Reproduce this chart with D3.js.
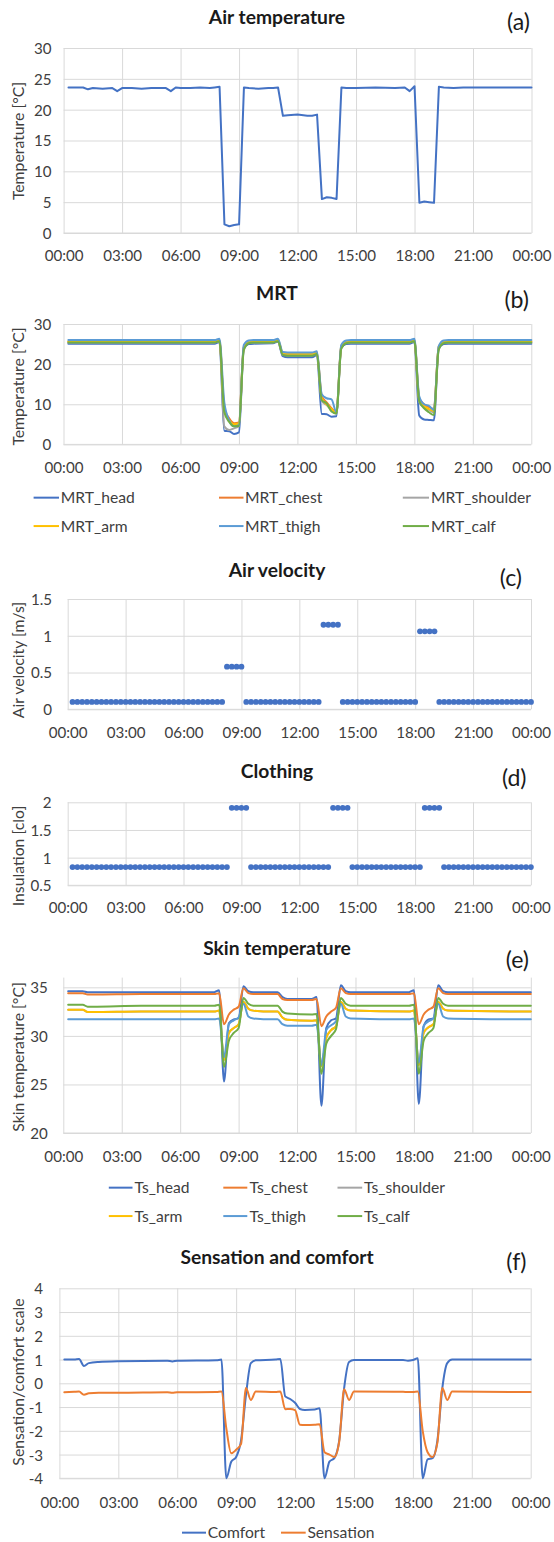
<!DOCTYPE html>
<html><head><meta charset="utf-8">
<script src="https://cdn.jsdelivr.net/npm/d3@7"></script>
<style>body{margin:0;background:#fff} svg{display:block;font-family:Lato, sans-serif}</style>
</head><body><svg id="c" width="554" height="1542"></svg>
<script>
// ---------- DATA ----------
const xTickHours = [0,3,6,9,12,15,18,21,24];
const xTickLabels = ["00:00","03:00","06:00","09:00","12:00","15:00","18:00","21:00","00:00"];

// (a) Air temperature
const airHours = [0.25,0.5,0.75,1.0,1.25,1.5,2.0,2.5,2.75,3.0,3.5,4.0,4.5,5.0,5.25,5.5,5.75,6.0,6.5,7.0,7.5,7.75,8.0,8.25,8.5,8.75,9.0,9.25,9.5,10.0,10.5,10.75,11.0,11.25,11.5,12.0,12.5,12.75,13.0,13.25,13.5,13.75,14.0,14.25,14.5,15.0,16.0,17.0,17.5,17.75,18.0,18.25,18.5,18.75,19.0,19.25,19.5,20.0,20.5,21.0,22.0,23.0,24.0];
const airTemp = [23.6,23.6,23.6,23.6,23.3,23.5,23.4,23.5,23.0,23.5,23.5,23.4,23.5,23.5,23.5,23.0,23.6,23.5,23.5,23.6,23.5,23.6,23.7,1.4,1.1,1.3,1.4,23.6,23.5,23.4,23.5,23.5,23.6,19.0,19.1,19.2,19.0,19.0,19.2,5.5,5.8,5.7,5.5,23.6,23.5,23.5,23.6,23.5,23.6,23.0,23.8,4.9,5.1,5.0,4.9,23.7,23.6,23.5,23.6,23.6,23.6,23.6,23.6];

// (b) MRT
const mrtNames = ["MRT_head","MRT_chest","MRT_shoulder","MRT_arm","MRT_thigh","MRT_calf"];
const mrtHours = [0.25,2,4,6,7.75,8.0,8.25,8.5,8.75,9.0,9.25,9.5,9.75,10.75,11.0,11.25,11.5,12.75,13.0,13.25,13.5,13.75,14.0,14.25,14.5,14.75,17.75,18.0,18.25,18.5,18.75,19.0,19.25,19.5,19.75,24];
const mrtHead     = [25.1,25.1,25.1,25.1,25.1,25.5,3.4,3.3,2.6,3.0,23.8,25.0,25.1,25.2,25.6,22.0,21.7,21.7,22.3,7.6,7.5,6.9,7.0,24.0,25.0,25.1,25.1,25.5,7.2,6.2,6.1,6.0,23.8,25.0,25.1,25.1];
const mrtChest    = [25.6,25.6,25.6,25.6,25.6,25.9,9.0,6.5,5.3,5.5,24.3,25.5,25.6,25.6,25.9,22.6,22.4,22.4,22.8,12.0,10.5,9.0,8.0,24.4,25.5,25.6,25.6,25.9,11.5,10.0,9.3,8.8,24.2,25.5,25.6,25.6];
const mrtShoulder = [25.4,25.4,25.4,25.4,25.4,25.7,4.5,3.6,4.0,4.5,24.0,25.3,25.4,25.4,25.7,22.3,22.2,22.2,22.6,10.8,9.8,8.6,7.6,24.2,25.3,25.4,25.4,25.7,10.5,9.2,8.6,8.0,24.0,25.3,25.4,25.4];
const mrtArm      = [25.7,25.7,25.7,25.7,25.7,26.0,8.5,6.0,5.0,5.2,24.3,25.6,25.7,25.7,26.0,22.8,22.6,22.6,23.0,11.5,10.0,8.8,8.0,24.5,25.6,25.7,25.7,26.0,11.2,9.5,8.8,8.3,24.4,25.6,25.7,25.7];
const mrtThigh    = [26.0,26.0,26.0,26.0,26.0,26.3,10.5,6.0,4.5,4.8,24.8,25.9,26.0,26.0,26.3,23.0,22.9,22.9,23.2,12.5,11.5,11.2,8.0,24.8,25.9,26.0,26.0,26.3,12.0,10.0,9.6,8.6,24.5,25.9,26.0,26.0];
const mrtCalf     = [25.4,25.4,25.4,25.4,25.4,25.7,8.0,5.6,4.5,4.6,23.5,25.2,25.4,25.4,25.7,22.3,22.1,22.1,22.5,11.0,10.2,8.2,7.7,23.8,25.2,25.4,25.4,25.7,10.8,9.0,8.0,7.3,23.6,25.2,25.4,25.4];

// (c) Air velocity and (d) clothing, 15-minute samples
const dotHours = [0.25,0.5,0.75,1,1.25,1.5,1.75,2,2.25,2.5,2.75,3,3.25,3.5,3.75,4,4.25,4.5,4.75,5,5.25,5.5,5.75,6,6.25,6.5,6.75,7,7.25,7.5,7.75,8,
 8.25,8.5,8.75,9,9.25,9.5,9.75,10,10.25,10.5,10.75,11,11.25,11.5,11.75,12,12.25,12.5,12.75,13,13.25,13.5,13.75,14,14.25,14.5,14.75,15,15.25,15.5,15.75,16,
 16.25,16.5,16.75,17,17.25,17.5,17.75,18,18.25,18.5,18.75,19,19.25,19.5,19.75,20,20.25,20.5,20.75,21,21.25,21.5,21.75,22,22.25,22.5,22.75,23,23.25,23.5,23.75,24];
const velocity = [0.1,0.1,0.1,0.1,0.1,0.1,0.1,0.1,0.1,0.1,0.1,0.1,0.1,0.1,0.1,0.1,0.1,0.1,0.1,0.1,0.1,0.1,0.1,0.1,0.1,0.1,0.1,0.1,0.1,0.1,0.1,0.1,
 0.58,0.58,0.58,0.58,0.1,0.1,0.1,0.1,0.1,0.1,0.1,0.1,0.1,0.1,0.1,0.1,0.1,0.1,0.1,0.1,1.15,1.15,1.15,1.15,0.1,0.1,0.1,0.1,0.1,0.1,0.1,0.1,
 0.1,0.1,0.1,0.1,0.1,0.1,0.1,0.1,1.06,1.06,1.06,1.06,0.1,0.1,0.1,0.1,0.1,0.1,0.1,0.1,0.1,0.1,0.1,0.1,0.1,0.1,0.1,0.1,0.1,0.1,0.1,0.1];
const clothing = [0.83,0.83,0.83,0.83,0.83,0.83,0.83,0.83,0.83,0.83,0.83,0.83,0.83,0.83,0.83,0.83,0.83,0.83,0.83,0.83,0.83,0.83,0.83,0.83,0.83,0.83,0.83,0.83,0.83,0.83,0.83,0.83,
 0.83,1.9,1.9,1.9,1.9,0.83,0.83,0.83,0.83,0.83,0.83,0.83,0.83,0.83,0.83,0.83,0.83,0.83,0.83,0.83,0.83,0.83,1.9,1.9,1.9,1.9,0.83,0.83,0.83,0.83,0.83,0.83,
 0.83,0.83,0.83,0.83,0.83,0.83,0.83,0.83,0.83,1.9,1.9,1.9,1.9,0.83,0.83,0.83,0.83,0.83,0.83,0.83,0.83,0.83,0.83,0.83,0.83,0.83,0.83,0.83,0.83,0.83,0.83,0.83];

// (e) Skin temperature
const skinNames = ["Ts_head","Ts_chest","Ts_shoulder","Ts_arm","Ts_thigh","Ts_calf"];
const skinHours = [0.25,0.75,1.0,1.25,1.5,4,7.75,8.0,8.25,8.5,8.75,9.0,9.25,9.5,9.75,10.75,11.0,11.25,11.5,12.75,13.0,13.25,13.5,13.75,14.0,14.25,14.5,14.75,17.75,18.0,18.25,18.5,18.75,19.0,19.25,19.5,19.75,24];
const tsHead     = [34.6,34.6,34.6,34.5,34.5,34.5,34.5,34.7,25.3,31.3,31.7,31.8,35.1,34.6,34.5,34.5,34.5,34.0,33.8,33.8,34.0,22.8,30.8,31.6,31.8,35.2,34.6,34.5,34.5,34.7,23.0,31.0,31.7,31.8,35.2,34.6,34.5,34.5];
const tsChest    = [34.4,34.4,34.4,34.25,34.25,34.3,34.3,34.4,31.2,32.2,32.7,33.0,34.9,34.4,34.3,34.3,34.3,33.8,33.7,33.7,33.8,31.0,32.0,32.5,32.9,34.9,34.4,34.3,34.3,34.4,31.2,32.2,32.7,33.0,34.9,34.4,34.3,34.3];
const tsShoulder = [32.7,32.7,32.7,32.45,32.45,32.5,32.5,32.6,27.5,30.3,30.8,31.2,33.5,32.8,32.6,32.5,32.5,31.9,31.65,31.55,31.6,26.9,29.8,30.6,31.0,33.5,32.8,32.6,32.5,32.6,27.0,30.3,30.9,31.2,33.5,32.8,32.6,32.5];
const tsArm      = [32.7,32.7,32.7,32.45,32.45,32.5,32.5,32.6,27.5,30.3,30.8,31.2,33.5,32.8,32.6,32.5,32.5,31.9,31.65,31.55,31.6,26.9,29.8,30.6,31.0,33.5,32.8,32.6,32.5,32.6,27.0,30.3,30.9,31.2,33.5,32.8,32.6,32.5];
const tsThigh    = [31.7,31.7,31.7,31.7,31.7,31.7,31.7,31.8,27.8,31.2,31.6,31.9,33.3,32.0,31.8,31.7,31.7,31.2,31.05,31.05,31.15,27.0,30.6,31.1,31.5,33.3,32.0,31.8,31.7,31.8,27.2,31.0,31.5,31.8,33.3,32.0,31.8,31.7];
const tsCalf     = [33.2,33.2,33.2,33.0,33.0,33.1,33.1,33.2,26.8,29.5,30.3,30.8,33.9,33.3,33.1,33.1,33.1,32.5,32.3,32.2,32.25,26.1,29.2,30.0,30.7,33.9,33.3,33.1,33.1,33.2,26.1,29.5,30.3,30.8,33.9,33.3,33.1,33.1];

// (f) Sensation and comfort
const scNames = ["Comfort","Sensation"];
const scHours = [0.25,0.75,1.0,1.25,1.5,2.0,3.0,5.5,5.75,6.0,8.0,8.25,8.5,8.75,9.0,9.25,9.5,9.75,10.0,11.0,11.25,11.5,11.75,12.0,12.25,12.5,13.0,13.25,13.5,13.75,14.0,14.25,14.5,14.75,15.0,17.5,17.75,18.0,18.25,18.5,18.75,19.0,19.25,19.5,19.75,20.0,24.0];
const comfort   = [1.0,1.0,1.02,0.73,0.85,0.9,0.93,0.95,0.92,0.95,0.97,1.0,-4.0,-3.3,-3.1,-2.4,-0.5,0.85,0.97,1.0,1.02,-0.55,-0.66,-0.82,-1.08,-1.12,-1.1,-1.05,-4.0,-3.3,-3.15,-2.4,-0.2,0.9,0.98,0.98,0.95,0.98,1.05,-4.0,-3.2,-3.15,-2.4,-0.2,0.85,1.0,1.0];
const sensation = [-0.38,-0.36,-0.35,-0.48,-0.42,-0.4,-0.4,-0.38,-0.4,-0.38,-0.37,-0.35,-1.9,-2.95,-2.8,-2.55,-0.2,-0.7,-0.35,-0.37,-0.35,-1.09,-1.08,-1.13,-1.75,-1.76,-1.75,-1.72,-2.9,-3.0,-3.1,-2.45,-0.25,-0.7,-0.35,-0.36,-0.37,-0.37,-0.35,-2.0,-2.9,-3.1,-2.5,-0.2,-0.7,-0.35,-0.37];

// ---------- STYLE ----------
const C = {blue:"#4472C4", orange:"#ED7D31", gray:"#A5A5A5", gold:"#FFC000", lblue:"#5B9BD5", green:"#70AD47"};
const seriesColors = [C.blue, C.orange, C.gray, C.gold, C.lblue, C.green];
const GRID = "#D9D9D9", TXT = "#404040", TITLE = "#1a1a1a";
const FONT = "Lato, sans-serif";

const svg = d3.select("#c");

function fit(str, weight, target){
  const t = svg.append("text").attr("font-family",FONT).attr("font-weight",weight).attr("font-size",100).text(str);
  const w = t.node().getComputedTextLength(); t.remove();
  return 100*target/w;
}
const tickFS = fit("00:00", 400, 38.9);
const legFS = fit("MRT_shoulder", 400, 100);
const axFS = fit("Temperature [°C]", 400, 118.3);
const titleFS = fit("Sensation and comfort", 700, 193.3);
const labFS = fit("(a)", 400, 23);

function panel(p){
  const x = d3.scaleLinear().domain([0,24]).range([p.left, p.right]);
  const y = d3.scaleLinear().domain(p.yDomain).range([p.bottom, p.top]);
  const gy = svg.append("g").attr("transform",`translate(${p.left},0)`)
    .call(d3.axisLeft(y).tickValues(p.yTicks).tickFormat((d,i)=>p.yLabels[i]).tickSize(-(p.right-p.left)));
  gy.select(".domain").remove();
  gy.selectAll(".tick line").attr("stroke",GRID).attr("stroke-width",1);
  gy.selectAll(".tick text").attr("x",p.tickRight-p.left).attr("dy","0.36em")
    .attr("font-size",tickFS).attr("font-family",FONT).attr("fill",TXT);
  const gx = svg.append("g").attr("transform",`translate(0,${p.bottom})`)
    .call(d3.axisBottom(x).tickValues(xTickHours).tickFormat((d,i)=>xTickLabels[i]).tickSize(-(p.bottom-p.top)));
  gx.select(".domain").remove();
  gx.selectAll(".tick line").attr("stroke",GRID).attr("stroke-width",1);
  gx.selectAll(".tick text").attr("y",p.xBase-p.bottom).attr("dy",null)
    .attr("font-size",tickFS).attr("font-family",FONT).attr("fill",TXT);
  // bottom axis line
  svg.append("line").attr("x1",p.left).attr("x2",p.right).attr("y1",y(p.yDomain[0])).attr("y2",y(p.yDomain[0])).attr("stroke",GRID);
  svg.append("text").attr("x",277).attr("y",p.titleBase).attr("text-anchor","middle")
    .attr("font-family",FONT).attr("font-weight",700).attr("font-size",titleFS).attr("fill",TITLE).text(p.title);
  svg.append("text").attr("x",p.labRight).attr("y",p.labBase).attr("text-anchor","end")
    .attr("font-family",FONT).attr("font-size",labFS).attr("fill",TITLE).text(p.label);
  svg.append("text").attr("transform",`translate(17.5,${p.yTitleC}) rotate(-90)`).attr("text-anchor","middle")
    .attr("dominant-baseline","central").attr("font-family",FONT).attr("font-size",axFS).attr("fill",TXT).text(p.yTitle);
  return {x,y};
}

function drawLine(s, hours, vals, color, curve, w){
  const pts = hours.map((h,i)=>[h, vals[i]]);
  svg.append("path").datum(pts).attr("fill","none").attr("stroke",color).attr("stroke-width",w||2)
    .attr("stroke-linejoin","round").attr("stroke-linecap","round")
    .attr("d", d3.line().x(d=>s.x(d[0])).y(d=>s.y(d[1])).curve(curve||d3.curveLinear)(pts));
}
function drawDots(s, hours, vals){
  svg.append("g").selectAll("circle").data(hours.map((h,i)=>[h,vals[i]])).join("circle")
    .attr("cx",d=>s.x(d[0])).attr("cy",d=>s.y(d[1])).attr("r",2.9).attr("fill",C.blue);
}
function legend(items){
  items.forEach(it=>{
    const ly = it.base - 0.36*legFS;
    svg.append("line").attr("x1",it.x1).attr("x2",it.x2).attr("y1",ly).attr("y2",ly).attr("stroke",it.color).attr("stroke-width",2);
    svg.append("text").attr("x",it.tx).attr("y",it.base).attr("font-family",FONT).attr("font-size",legFS).attr("fill",TXT).text(it.name);
  });
}

// (a)
const sa = panel({left:63.6,right:531.5,top:48,bottom:233,yDomain:[0,30],yTicks:[0,5,10,15,20,25,30],yLabels:["0","5","10","15","20","25","30"],
  tickRight:51.5,xBase:261,title:"Air temperature",titleBase:24.3,label:"(a)",labRight:530,labBase:29.7,yTitle:"Temperature [°C]",yTitleC:141});
drawLine(sa, airHours, airTemp, C.blue, d3.curveLinear, 2);

// (b)
const sb = panel({left:63.5,right:531.3,top:324,bottom:444.4,yDomain:[0,30],yTicks:[0,10,20,30],yLabels:["0","10","20","30"],
  tickRight:51.2,xBase:473.3,title:"MRT",titleBase:300,label:"(b)",labRight:529,labBase:308,yTitle:"Temperature [°C]",yTitleC:386.5});
[mrtHead,mrtChest,mrtShoulder,mrtArm,mrtThigh,mrtCalf].forEach((v,i)=>drawLine(sb, mrtHours, v, seriesColors[i], d3.curveMonotoneX, 2));
const lbCols=[[33.6,59,60.8],[219,243.5,245],[402.8,429,431]], lbRows=[503.3,531.7];
legend(mrtNames.map((n,i)=>({name:n,color:seriesColors[i],x1:lbCols[i%3][0],x2:lbCols[i%3][1],tx:lbCols[i%3][2],base:lbRows[Math.floor(i/3)]})));

// (c)
const sc = panel({left:67.7,right:531,top:599,bottom:709.3,yDomain:[0,1.5],yTicks:[0,0.5,1,1.5],yLabels:["0","0.5","1","1.5"],
  tickRight:52,xBase:738.3,title:"Air velocity",titleBase:576.7,label:"(c)",labRight:522,labBase:586.4,yTitle:"Air velocity [m/s]",yTitleC:660});
drawDots(sc, dotHours, velocity);

// (d)
const sd = panel({left:67.7,right:530.9,top:802.3,bottom:885.3,yDomain:[0.5,2],yTicks:[0.5,1,1.5,2],yLabels:["0.5","1","1.5","2"],
  tickRight:51.5,xBase:913.3,title:"Clothing",titleBase:778.3,label:"(d)",labRight:526.5,labBase:786.4,yTitle:"Insulation [clo]",yTitleC:856});
drawDots(sd, dotHours, clothing);

// (e)
const se = panel({left:63.3,right:530.8,top:977.6,bottom:1133,yDomain:[20,36],yTicks:[20,25,30,35],yLabels:["20","25","30","35"],
  tickRight:47.7,xBase:1161.7,title:"Skin temperature",titleBase:955,label:"(e)",labRight:529,labBase:968,yTitle:"Skin temperature [°C]",yTitleC:1057});
[tsHead,tsChest,tsShoulder,tsArm,tsThigh,tsCalf].forEach((v,i)=>drawLine(se, skinHours, v, seriesColors[i], d3.curveMonotoneX, 2));
const leCols=[[108.8,132.5,134.5],[223.3,247.3,249.5],[337.5,362.2,364]], leRows=[1193.3,1221.7];
legend(skinNames.map((n,i)=>({name:n,color:seriesColors[i],x1:leCols[i%3][0],x2:leCols[i%3][1],tx:leCols[i%3][2],base:leRows[Math.floor(i/3)]})));

// (f)
const sf = panel({left:59.4,right:530.7,top:1288.3,bottom:1478.3,yDomain:[-4,4],yTicks:[-4,-3,-2,-1,0,1,2,3,4],yLabels:["-4","-3","-2","-1","0","1","2","3","4"],
  tickRight:43.1,xBase:1508.3,title:"Sensation and comfort",titleBase:1264,label:"(f)",labRight:526.5,labBase:1270,yTitle:"Sensation/comfort scale",yTitleC:1382});
drawLine(sf, scHours, comfort, C.blue, d3.curveMonotoneX, 2);
drawLine(sf, scHours, sensation, C.orange, d3.curveMonotoneX, 2);
legend([{name:scNames[0],color:C.blue,x1:182,x2:206,tx:207.8,base:1538.3},{name:scNames[1],color:C.orange,x1:281,x2:305.7,tx:307.4,base:1538.3}]);
</script></body></html>
